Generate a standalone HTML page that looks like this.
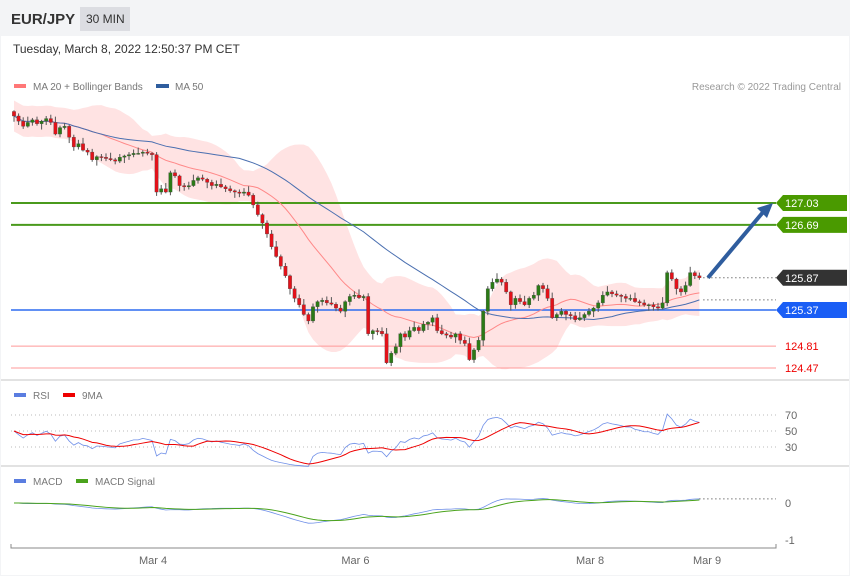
<!DOCTYPE html>
<html><head><meta charset="utf-8"><style>
body{margin:0;background:#fff;font-family:"Liberation Sans",sans-serif}
svg text{font-family:"Liberation Sans",sans-serif}
</style></head><body>
<svg id="c" width="850" height="576" xmlns="http://www.w3.org/2000/svg">
<rect x="0" y="0" width="850" height="576" fill="#f3f4f6"/>
<rect x="1" y="36" width="848" height="539" fill="#fff"/>
<text x="11" y="24" font-size="15" font-weight="bold" fill="#333">EUR/JPY</text>
<rect x="80" y="7" width="50" height="24" fill="#dcdde2"/>
<text x="86" y="23" font-size="12" fill="#333">30 MIN</text>
<text x="13" y="53" font-size="12" fill="#333">Tuesday, March 8, 2022 12:50:37 PM CET</text>
<rect x="14" y="84" width="12" height="4" fill="#f77"/>
<text x="33" y="90" font-size="10" fill="#777">MA 20 + Bollinger Bands</text>
<rect x="156" y="84" width="13" height="4" fill="#2f5d9e"/>
<text x="175" y="90" font-size="10" fill="#777">MA 50</text>
<text x="841" y="90" font-size="10" fill="#999" text-anchor="end">Research © 2022 Trading Central</text>
<line x1="1" y1="380" x2="849" y2="380" stroke="#e2e2e2" stroke-width="2"/>
<line x1="1" y1="466" x2="849" y2="466" stroke="#e2e2e2" stroke-width="2"/>
<rect x="14" y="393" width="12" height="4" fill="#5a7de0"/>
<text x="33" y="399" font-size="10" fill="#777">RSI</text>
<rect x="63" y="393" width="12" height="4" fill="#e00"/>
<text x="82" y="399" font-size="10" fill="#777">9MA</text>
<rect x="14" y="479" width="12" height="4" fill="#5a7de0"/>
<text x="33" y="485" font-size="10" fill="#777">MACD</text>
<rect x="76" y="479" width="12" height="4" fill="#4aa31c"/>
<text x="95" y="485" font-size="10" fill="#777">MACD Signal</text>
<g id="g"></g>
</svg>
<script>
const closes=[128.38,128.30,128.22,128.28,128.32,128.26,128.30,128.34,128.28,
128.10,128.20,128.22,128.05,127.90,127.95,
127.85,127.82,127.70,127.75,127.74,127.72,
127.70,127.68,127.74,127.76,127.78,127.80,127.80,127.82,127.80,127.78,
127.20,
127.25,127.20,127.50,127.45,127.30,127.28,127.30,127.38,
127.42,127.40,127.35,127.30,127.32,127.28,127.25,127.22,127.20,127.18,127.20,127.15,
127.00,126.85,126.72,126.55,126.35,126.20,126.05,125.90,
125.70,125.55,125.45,125.30,125.20,
125.42,125.50,125.52,125.48,125.46,125.40,125.35,125.50,125.58,125.60,125.56,125.58,
125.00,
125.05,125.04,125.00,124.55,124.70,
124.80,125.00,124.95,125.05,125.10,
125.05,125.15,125.18,125.25,125.05,125.00,124.98,124.95,
125.00,124.90,124.85,124.60,124.75,
124.90,125.35,125.70,125.80,
125.85,125.80,125.65,125.45,125.55,125.50,
125.45,125.55,125.60,125.75,125.70,125.55,
125.25,125.30,125.35,125.30,125.28,125.22,125.25,125.30,
125.35,125.40,125.48,125.60,125.65,125.62,
125.60,125.58,125.55,125.55,125.50,125.48,125.45,125.45,125.42,
125.40,125.48,
125.95,
125.85,125.70,125.65,125.75,125.95,125.90,125.87];
const firstOpen=128.45;
const wickUp=[0.02,0.04,0.06,0.09,0.03,0.05];
const levels=[127.03,126.69,125.37,124.81,124.47];
const levelKinds=["res","res","sup","sup2","sup2"];
const lastPrice=125.87;
const dateLabels=["Mar 4","Mar 6","Mar 8","Mar 9"];
const dateIdx=[30,74,125,150];
const rsiTicks=[70,50,30];
const macdTicks=[0,-1];

const NS="http://www.w3.org/2000/svg",g=document.getElementById('g');
function el(t,a,p){const e=document.createElementNS(NS,t);for(const k in a)e.setAttribute(k,a[k]);(p||g).appendChild(e);return e;}
const X=i=>14+i*4.6;
const Y=p=>203+(127.03-p)*64.45;
const RY=v=>431-(v-50)*0.8;
const MY=v=>503-v*37;
const n=closes.length;
const opens=closes.map((c,i)=>i?closes[i-1]:firstOpen);
function ma(arr,w,i){let s=0,k=0;for(let j=Math.max(0,i-w+1);j<=i;j++){s+=arr[j];k++;}return s/k;}
function sd(arr,w,i,m){let s=0,k=0;for(let j=Math.max(0,i-w+1);j<=i;j++){s+=(arr[j]-m)**2;k++;}return Math.sqrt(s/k);}
const m20=[],up=[],lo=[],m50=[];
for(let i=0;i<n;i++){const m=ma(closes,20,i),s=Math.max(sd(closes,20,i,m),0.12);m20.push(m);up.push(m+2*s);lo.push(m-2*s);m50.push(ma(closes,50,i));}
let d="M"+X(0)+","+Y(up[0]);for(let i=1;i<n;i++)d+="L"+X(i)+","+Y(up[i]);for(let i=n-1;i>=0;i--)d+="L"+X(i)+","+Y(lo[i]);
const band=el('path',{d:d+"Z",fill:"#ffe3e3"});


const pl=(arr,f,xf)=>arr.map((v,i)=>(i?"L":"M")+xf(i)+","+f(v)).join("");
levels.forEach((lv,k)=>{const kind=levelKinds[k];const col=kind=="res"?"#4a9a1c":kind=="sup"?"#2d6cf0":"#f99";
const ln=el('line',{x1:11,x2:776,y1:Y(lv),y2:Y(lv),stroke:col,"stroke-width":kind=="sup2"?1:(kind=="res"?2:1.5)});


const y=Y(lv);
if(kind=="sup2"){const t=el('text',{x:785,y:y+4,"font-size":11,fill:"#e00"});t.textContent=lv.toFixed(2);

}
else{const b=el('path',{d:`M776,${y}L783,${y-8}H847V${y+8}H783Z`,fill:kind=="res"?"#4a9a00":"#1a5ef5"});


const t=el('text',{x:785,y:y+4,"font-size":11,fill:"#fff"});t.textContent=lv.toFixed(2);

}
});
const ma20l=el('path',{d:pl(m20,Y,X),fill:"none",stroke:"#f88","stroke-width":1});


const ma50l=el('path',{d:pl(m50,Y,X),fill:"none",stroke:"#4a6fb0","stroke-width":1});


for(let i=0;i<n;i++){const o=opens[i],c=closes[i],w=wickUp[i%6],w2=wickUp[(i*5+3)%6];
const hi=Math.max(o,c)+w,lw=Math.min(o,c)-w2;
const wk=el('line',{x1:X(i),x2:X(i),y1:Y(hi),y2:Y(lw),stroke:"#555","stroke-width":1});


const top=Y(Math.max(o,c)),h=Math.max(1,Math.abs(Y(o)-Y(c)));
const b=el('rect',{x:X(i)-1.7,y:top,width:3.4,height:h,fill:c>=o?"#2b7a16":"#e3121a",stroke:"#444","stroke-width":0.3});

}
const ly=Y(lastPrice);
const dl=el('line',{x1:X(n-1)+4,x2:776,y1:ly,y2:ly,stroke:"#333","stroke-dasharray":"1,3"});


const my=Y(m50[n-1]);
const dl2=el('line',{x1:X(n-1)+4,x2:776,y1:my,y2:my,stroke:"#333","stroke-dasharray":"1,3"});


const lt=el('path',{d:`M776,${ly}L783,${ly-8}H847V${ly+8}H783Z`,fill:"#333"});


const ltt=el('text',{x:785,y:ly+4,"font-size":11,fill:"#fff"});ltt.textContent=lastPrice.toFixed(2);


const ar=el('line',{x1:708,y1:ly,x2:764,y2:Y(127.03)+8,stroke:"#2f5d9e","stroke-width":4});


const ah=el('path',{d:`M773,${Y(127.03)}L757,${Y(127.03)+5}L767,${Y(127.03)+15}Z`,fill:"#2f5d9e"});


const rsi=[];let ag=0,al=0;
for(let i=0;i<n;i++){const ch=i?closes[i]-closes[i-1]:0;const gn=Math.max(ch,0),ls=Math.max(-ch,0);
if(i===0){ag=0.03;al=0.03;}else{ag=(ag*13+gn)/14;al=(al*13+ls)/14;}rsi.push(100-100/(1+ag/al));}
const rma=rsi.map((v,i)=>ma(rsi,9,i));
rsiTicks.forEach(t=>{const l=el('line',{x1:11,x2:776,y1:RY(t),y2:RY(t),stroke:"#bbb","stroke-dasharray":"1,3"});


const tx=el('text',{x:785,y:RY(t)+4,"font-size":11,fill:"#666"});tx.textContent=t;

});
const rl=el('path',{d:pl(rsi,RY,X),fill:"none",stroke:"#6f8fe8","stroke-width":0.8});


const rml=el('path',{d:pl(rma,RY,X),fill:"none",stroke:"#e00","stroke-width":1});


function ema(arr,p){const k=2/(p+1);const o=[];arr.forEach((v,i)=>o.push(i?v*k+o[i-1]*(1-k):v));return o;}
const pre=Array(30).fill(128.35).concat(closes);
const e12=ema(pre,12),e26=ema(pre,26);
const macdAll=e12.map((v,i)=>v-e26[i]);const sigAll=ema(macdAll,9);
const macd=macdAll.slice(30),sig=sigAll.slice(30);
macdTicks.forEach(t=>{const tx=el('text',{x:785,y:MY(t)+4,"font-size":11,fill:"#666"});tx.textContent=t;

});
const mdl=el('line',{x1:X(n-1),x2:776,y1:MY(macd[n-1]),y2:MY(macd[n-1]),stroke:"#333","stroke-dasharray":"1,3"});


const ml=el('path',{d:pl(macd,MY,X),fill:"none",stroke:"#6f8fe8","stroke-width":0.8});


const sl=el('path',{d:pl(sig,MY,X),fill:"none",stroke:"#4aa31c","stroke-width":1});


const ax=el('path',{d:"M11,544V548H776V544",fill:"none",stroke:"#888"});


dateLabels.forEach((lb,k)=>{const t=el('text',{x:X(dateIdx[k])+(k==3?3:1),y:564,"font-size":11,fill:"#666","text-anchor":"middle"});t.textContent=lb;

});
</script>
</body></html>
